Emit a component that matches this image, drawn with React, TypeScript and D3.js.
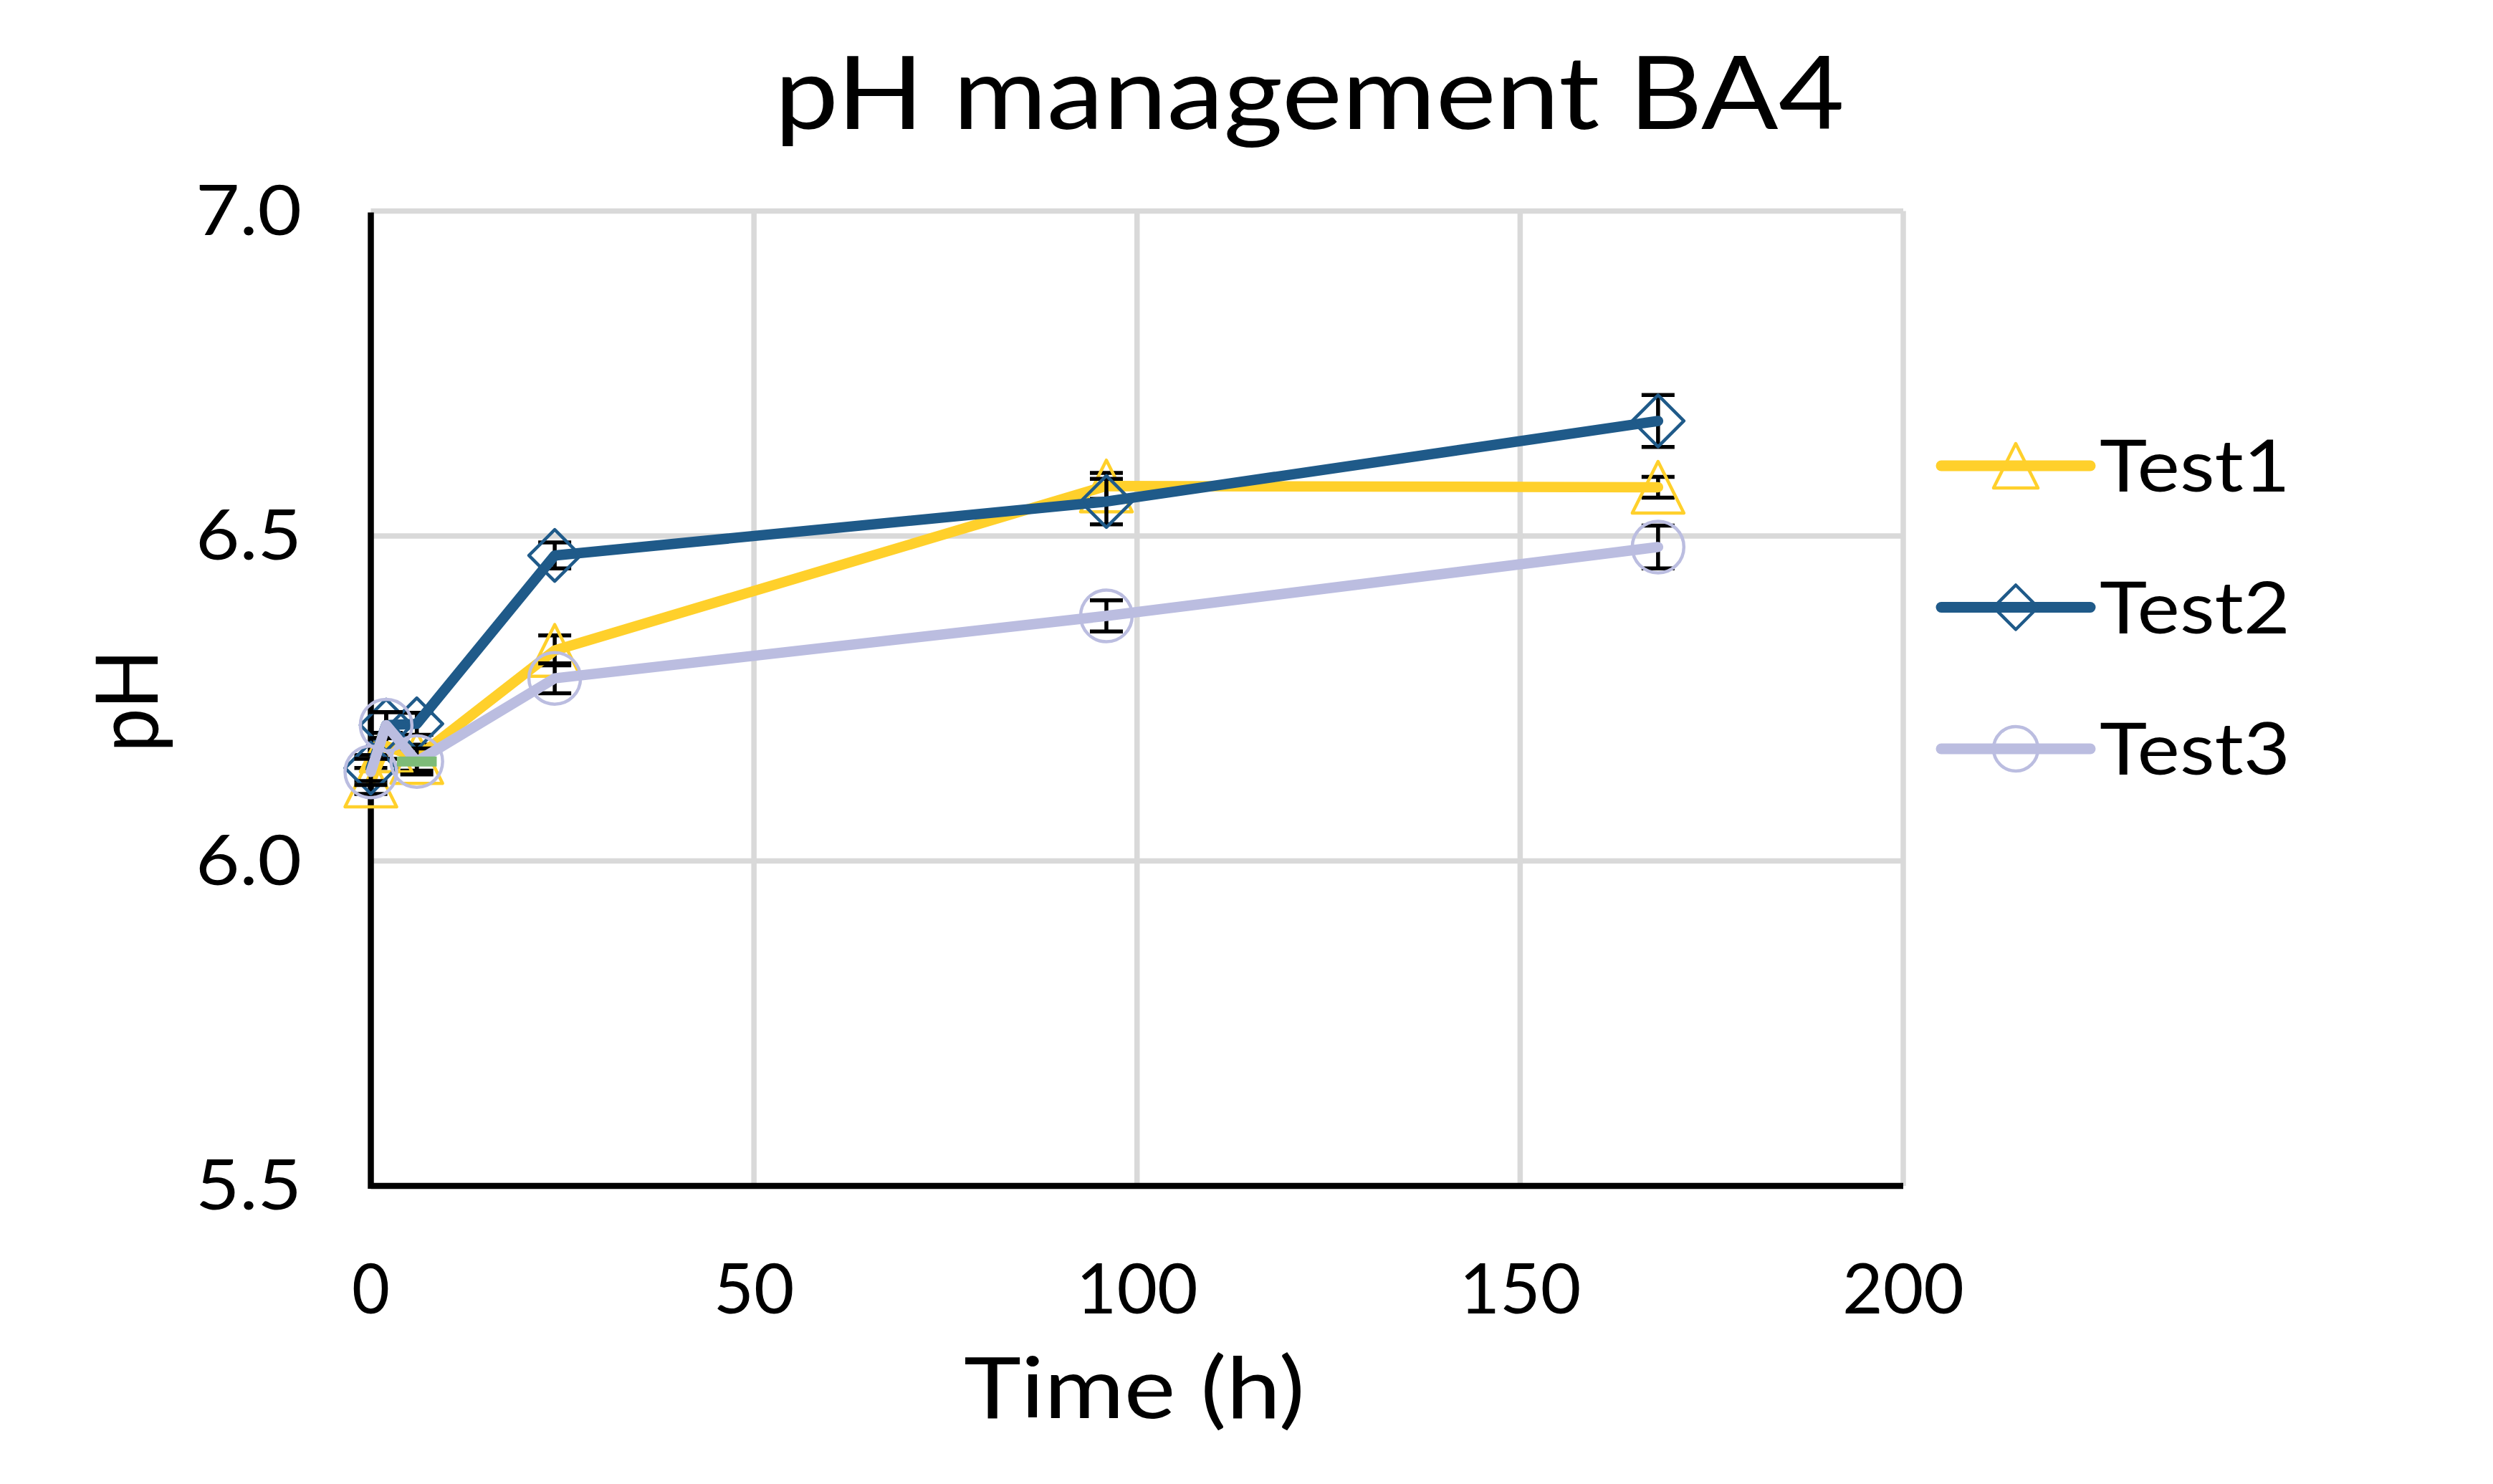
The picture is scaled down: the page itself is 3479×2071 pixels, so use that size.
import React, { useEffect } from "react";
import * as d3 from "d3";

// Sampling times (h)
const times = [0, 2, 6, 24, 96, 168];

// Mean pH per test and the standard deviation for each sample
const test1 = [6.123, 6.177, 6.159, 6.324, 6.577, 6.575];
const test1Err = [0.02, 0.02, 0.02, 0.023, 0.02, 0.016];
const test2 = [6.143, 6.209, 6.211, 6.47, 6.553, 6.677];
const test2Err = [0.02, 0.02, 0.017, 0.02, 0.035, 0.04];
const test3 = [6.137, 6.209, 6.153, 6.281, 6.377, 6.483];
const test3Err = [0.02, 0.02, 0.02, 0.023, 0.024, 0.033];

// Short green segment near the start of the run
const greenTimes = [3.4, 8.6];
const greenValues = [6.153, 6.153];

const xTicks = [0, 50, 100, 150, 200];
const yTicks = [5.5, 6.0, 6.5, 7.0];
const seriesNames = ["Test1", "Test2", "Test3"];

const W = 3479;
const H = 2071;
const FONT = "Lato, 'Noto Sans', sans-serif";

const x = d3.scaleLinear().domain([0, 200]).range([517.5, 2656]);
const y = d3.scaleLinear().domain([5.5, 7.0]).range([1655, 294.5]);

// rendered width of a tick label by its number of characters
const labelWidth = [0, 53, 113, 170];

type Shape = "triangle" | "diamond" | "circle";

function markerPath(shape: Shape, cx: number, cy: number, s: number): string {
  const h = s / 2;
  if (shape === "triangle") {
    return `M${cx},${cy - h}L${cx + h},${cy + h}L${cx - h},${cy + h}Z`;
  }
  if (shape === "diamond") {
    return `M${cx},${cy - h}L${cx + h},${cy}L${cx},${cy + h}L${cx - h},${cy}Z`;
  }
  const p = d3.path();
  p.arc(cx, cy, h, 0, Math.PI * 2);
  return p.toString();
}

const series = [
  { name: seriesNames[0], values: test1, err: test1Err, color: "#FFD02B", shape: "triangle" as Shape },
  { name: seriesNames[1], values: test2, err: test2Err, color: "#1F5A89", shape: "diamond" as Shape },
  { name: seriesNames[2], values: test3, err: test3Err, color: "#BBBDE0", shape: "circle" as Shape },
];

const line = d3
  .line<[number, number]>()
  .x((d) => x(d[0]))
  .y((d) => y(d[1]));

function SeriesMarks({ s }: { s: (typeof series)[number] }) {
  const pts: [number, number][] = times.map((t, i) => [t, s.values[i]]);
  const capW = 23;
  return (
    <g>
      <g stroke="#000" strokeWidth={5.5}>
        {pts.map(([t, v], i) => (
          <g key={i}>
            <line x1={x(t)} x2={x(t)} y1={y(v + s.err[i])} y2={y(v - s.err[i])} />
            <line x1={x(t) - capW} x2={x(t) + capW} y1={y(v + s.err[i])} y2={y(v + s.err[i])} />
            <line x1={x(t) - capW} x2={x(t) + capW} y1={y(v - s.err[i])} y2={y(v - s.err[i])} />
          </g>
        ))}
      </g>
      <path
        d={line(pts) || ""}
        fill="none"
        stroke={s.color}
        strokeWidth={14.5}
        strokeLinecap="round"
        strokeLinejoin="round"
      />
      {pts.map(([t, v], i) => (
        <path
          key={i}
          d={markerPath(s.shape, x(t), y(v), 72)}
          fill="none"
          stroke={s.color}
          strokeWidth={4.5}
          strokeLinejoin="round"
        />
      ))}
    </g>
  );
}

export default function App() {
  useEffect(() => {
    document.body.style.margin = "0";
    document.body.style.overflow = "hidden";
  }, []);

  const greenPts: [number, number][] = greenTimes.map((t, i) => [t, greenValues[i]]);
  const legendY = [650, 847.5, 1045];

  return (
    <svg
      width={W}
      height={H}
      viewBox={`0 0 ${W} ${H}`}
      style={{ position: "absolute", left: 0, top: 0, background: "#fff" }}
      fontFamily={FONT}
    >
      <rect x={0} y={0} width={W} height={H} fill="#fff" />

      {/* gridlines */}
      <g stroke="#D9D9D9" strokeWidth={7.5}>
        {yTicks
          .filter((v) => v > 5.5)
          .map((v) => (
            <line key={v} x1={x(0)} x2={x(200)} y1={y(v)} y2={y(v)} />
          ))}
        {xTicks
          .filter((t) => t > 0)
          .map((t) => (
            <line key={t} x1={x(t)} x2={x(t)} y1={y(7.0)} y2={y(5.5)} />
          ))}
      </g>

      {/* axes */}
      <line x1={x(0)} x2={x(0)} y1={y(7.0) + 2} y2={y(5.5) + 4} stroke="#000" strokeWidth={8.5} />
      <line x1={x(0)} x2={x(200)} y1={y(5.5)} y2={y(5.5)} stroke="#000" strokeWidth={8.5} />

      {/* tick labels */}
      <g fontSize={96} fill="#000">
        {yTicks.map((v) => (
          <text key={v} x={421} y={y(v) + 33} textAnchor="end" textLength={148} lengthAdjust="spacingAndGlyphs">
            {v.toFixed(1)}
          </text>
        ))}
        {xTicks.map((t) => (
          <text
            key={t}
            x={x(t)}
            y={1833}
            textAnchor="middle"
            textLength={labelWidth[String(t).length]}
            lengthAdjust="spacingAndGlyphs"
          >
            {t}
          </text>
        ))}
      </g>

      {/* series */}
      <SeriesMarks s={series[0]} />
      <SeriesMarks s={series[1]} />
      <SeriesMarks s={series[2]} />
      <path d={line(greenPts) || ""} stroke="#7DBB78" strokeWidth={14} fill="none" />

      {/* titles */}
      <text x={1081} y={180} fontSize={141} textLength={1493} lengthAdjust="spacingAndGlyphs">
        pH management BA4
      </text>
      <text x={1583} y={1979} fontSize={118} textAnchor="middle" textLength={476} lengthAdjust="spacingAndGlyphs">
        Time (h)
      </text>
      <text
        transform="translate(220,978) rotate(-90)"
        fontSize={120}
        textAnchor="middle"
        textLength={144}
        lengthAdjust="spacingAndGlyphs"
      >
        pH
      </text>

      {/* legend */}
      {series.map((s, i) => (
        <g key={s.name}>
          <line
            x1={2709}
            x2={2917}
            y1={legendY[i]}
            y2={legendY[i]}
            stroke={s.color}
            strokeWidth={15}
            strokeLinecap="round"
          />
          <path d={markerPath(s.shape, 2813, legendY[i], 62)} fill="none" stroke={s.color} strokeWidth={4.5} strokeLinejoin="round" />
          <text x={2930} y={legendY[i] + 36} fontSize={100} textLength={266} lengthAdjust="spacingAndGlyphs">
            {s.name}
          </text>
        </g>
      ))}
    </svg>
  );
}
